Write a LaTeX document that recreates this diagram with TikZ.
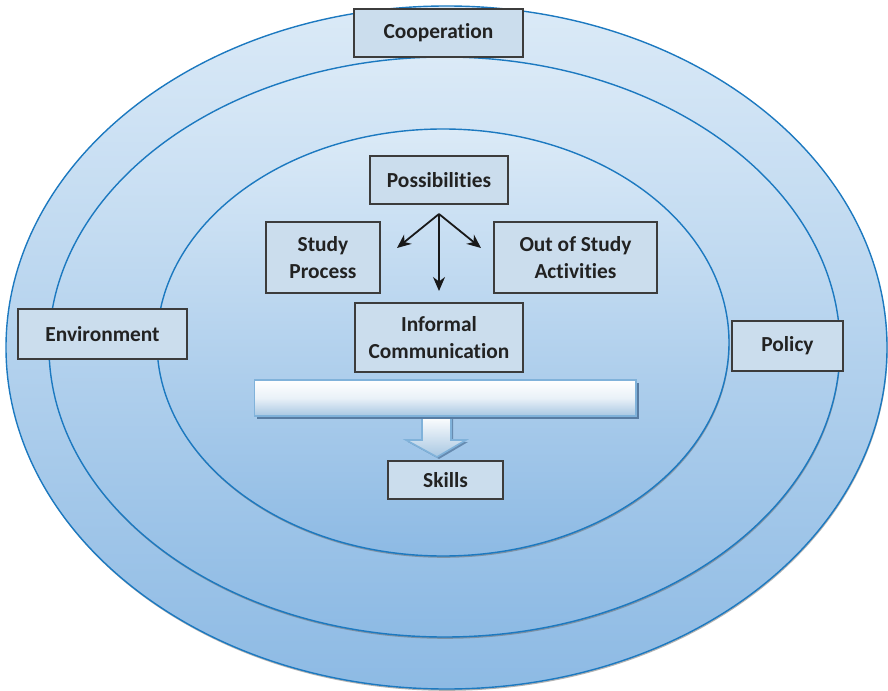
\documentclass[tikz,border=0pt]{standalone}
\usepackage{fontspec}
\setmainfont{Carlito}[Ligatures={NoCommon}]
\usetikzlibrary{arrows.meta,shadows}
\definecolor{ringtop}{RGB}{219,234,247}
\definecolor{ringbot}{RGB}{141,186,228}
\definecolor{ringedge}{RGB}{28,121,192}
\definecolor{boxfill}{RGB}{203,221,237}
\definecolor{boxedge}{RGB}{60,60,60}
\definecolor{textgray}{RGB}{34,34,34}
\definecolor{barbot}{RGB}{168,199,226}
\definecolor{baredge}{RGB}{128,178,218}
\definecolor{barshade}{RGB}{88,124,162}
\tikzset{>={Stealth[length=7bp,width=6bp]}}
\tikzset{
  ring/.style={draw=ringedge, line width=0.7bp, top color=ringtop, bottom color=ringbot,
    drop shadow={shadow xshift=0.3bp, shadow yshift=-0.9bp, fill=black!60, opacity=0.5}},
  box/.style={draw=boxedge, line width=1bp, fill=boxfill, text=textgray, align=center,
    inner sep=0pt, font=\fontsize{10.7bp}{13.9bp}\selectfont\bfseries},
  link/.style={->, line width=0.9bp, draw=black!90},
  barbox/.style={draw=baredge, line width=0.8bp, top color=white, bottom color=barbot,
    middle color=white!75!barbot, inner sep=0pt,
    drop shadow={shadow xshift=1.5bp, shadow yshift=-1.5bp, fill=barshade, opacity=1}},
  downarrow/.style={draw=baredge, line width=0.8bp, top color=white, bottom color=barbot,
    drop shadow={shadow xshift=1bp, shadow yshift=-1bp, fill=barshade, opacity=0.8}}
}

\begin{document}
\begin{tikzpicture}[x=0.5bp, y=-0.5bp]
  \useasboundingbox (0,0) rectangle (888,691);

  \path[ring] (446.5,347.5) ellipse [x radius=220.25bp, y radius=170.75bp];
  \path[ring] (444.5,347) ellipse [x radius=197.75bp, y radius=145bp];
  \path[ring] (443,342.5) ellipse [x radius=143bp, y radius=106.75bp];

  \path[downarrow] (422,416) -- (451,416) -- (451,440) -- (466,440) -- (437,457)
    -- (406,440) -- (422,440) -- cycle;
  \node[barbox, minimum width=190.75bp, minimum height=18bp] (bar) at (445.25,398) {};

  \node[box, minimum width=84.5bp, minimum height=24bp] (cooperation) at (438.5,33) {Cooperation};
  \node[box, minimum width=69bp, minimum height=24bp] (possibilities) at (439,180) {Possibilities};
  \node[box, minimum width=57bp, minimum height=35.5bp] (study) at (323,257.5) {Study\\Process};
  \node[box, minimum width=81.5bp, minimum height=35.5bp] (outstudy) at (575.5,257.5) {Out of Study\\Activities};
  \node[box, minimum width=84bp, minimum height=34.5bp] (informal) at (439,337.5) {Informal\\Communication};
  \node[box, minimum width=84.5bp, minimum height=25bp] (environment) at (102.5,334) {Environment};
  \node[box, minimum width=55.5bp, minimum height=25bp] (policy) at (787.5,346) {Policy};
  \node[box, minimum width=57.5bp, minimum height=19bp] (skills) at (445.5,480) {Skills};

  \coordinate (fork) at ([yshift=-4.5bp]possibilities.south);
  \coordinate (studytip) at ([xshift=8bp,yshift=4.75bp]study.east);
  \coordinate (outtip) at ([xshift=-6bp,yshift=4.75bp]outstudy.west);
  \coordinate (informaltip) at ([yshift=5.5bp]informal.north);

  \draw[link] (fork) -- (studytip);
  \draw[link] (fork) -- (outtip);
  \draw[link] (fork) -- (informaltip);
\end{tikzpicture}
\end{document}
